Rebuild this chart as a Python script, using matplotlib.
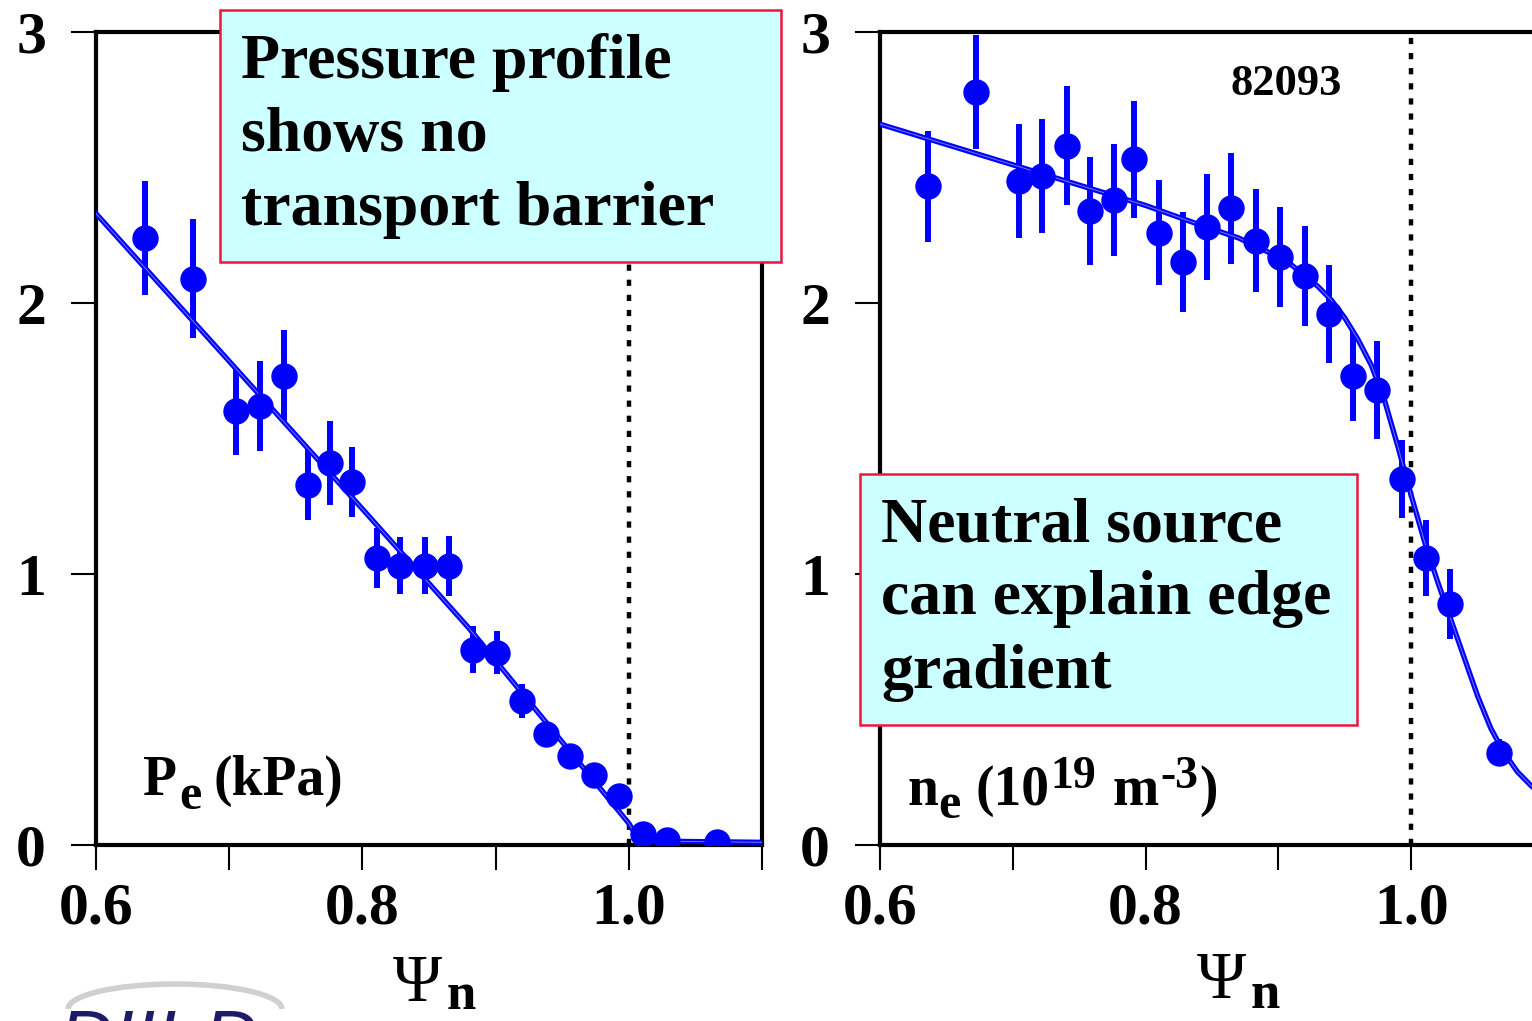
import matplotlib
matplotlib.use("Agg")
import matplotlib.pyplot as plt
from matplotlib.patches import Rectangle, Arc

plt.rcParams["font.family"] = ["Liberation Serif", "DejaVu Serif"]
plt.rcParams["font.weight"] = "bold"

BLUE = "#0000ff"
BOX_FILL = "#ccffff"
BOX_EDGE = "#f0143c"

# electron pressure (kPa) vs psi_n
pe_psi = [0.637, 0.673, 0.705, 0.723, 0.741, 0.759, 0.776, 0.792, 0.811, 0.828, 0.847,
          0.865, 0.883, 0.901, 0.920, 0.938, 0.956, 0.974, 0.993, 1.011, 1.029, 1.066]
pe_val = [2.24, 2.09, 1.60, 1.62, 1.73, 1.33, 1.41, 1.34, 1.06, 1.03, 1.03,
          1.03, 0.72, 0.71, 0.53, 0.41, 0.33, 0.26, 0.18, 0.04, 0.02, 0.01]
pe_err = [0.21, 0.22, 0.16, 0.165, 0.17, 0.13, 0.155, 0.13, 0.11, 0.105, 0.105,
          0.11, 0.087, 0.08, 0.063, 0.03, 0.02, 0.02, 0.02, 0.02, 0.02, 0.02]
pe_fit_psi = [0.60, 0.80, 0.88, 0.92, 1.00, 1.008, 1.10]
pe_fit_val = [2.33, 1.24, 0.80, 0.56, 0.08, 0.015, 0.01]

# electron density (1e19 m^-3) vs psi_n
ne_psi = [0.636, 0.672, 0.705, 0.722, 0.741, 0.758, 0.776, 0.791, 0.810, 0.828, 0.846,
          0.864, 0.883, 0.901, 0.920, 0.938, 0.956, 0.974, 0.993, 1.011, 1.029, 1.066]
ne_val = [2.43, 2.78, 2.45, 2.47, 2.58, 2.34, 2.38, 2.53, 2.26, 2.15, 2.28,
          2.35, 2.23, 2.17, 2.10, 1.96, 1.73, 1.68, 1.35, 1.06, 0.89, 0.34]
ne_err = [0.205, 0.21, 0.21, 0.21, 0.22, 0.20, 0.205, 0.215, 0.195, 0.185, 0.195,
          0.205, 0.19, 0.185, 0.185, 0.18, 0.165, 0.18, 0.145, 0.14, 0.13, 0.05]
ne_fit_psi = [0.60, 0.64, 0.68, 0.72, 0.76, 0.80, 0.84, 0.87, 0.90, 0.91, 0.92, 0.93,
              0.94, 0.95, 0.96, 0.97, 0.98, 0.99, 1.00, 1.01, 1.02, 1.03, 1.04,
              1.05, 1.06, 1.07, 1.08, 1.09, 1.10]
ne_fit_val = [2.66, 2.60, 2.54, 2.48, 2.42, 2.36, 2.29, 2.24, 2.17, 2.14, 2.10, 2.06,
              2.01, 1.945, 1.865, 1.77, 1.64, 1.47, 1.29, 1.12, 0.97, 0.83, 0.69,
              0.55, 0.43, 0.34, 0.27, 0.22, 0.18]

x_major = [0.6, 0.8, 1.0]
x_major_labels = ["0.6", "0.8", "1.0"]
x_minor = [0.7, 0.9, 1.1]
y_ticks = [0, 1, 2, 3]

W, H = 1532, 1021
fig = plt.figure(figsize=(W / 100, H / 100), dpi=100)
ax1 = fig.add_axes([96 / W, 176 / H, 666 / W, 813 / H])
ax2 = fig.add_axes([880 / W, 176 / H, 664 / W, 813 / H])


def px_text(x, y, s, size, **kw):
    # place text by its left edge and baseline, in picture pixels from top-left
    kw.setdefault("ha", "left")
    kw.setdefault("va", "baseline")
    return fig.text(x / W, 1 - y / H, s, fontsize=size, **kw)


def draw_panel(ax, psi, val, err, fit_psi, fit_val):
    ax.errorbar(psi, val, yerr=err, fmt="none", ecolor=BLUE, elinewidth=4.3,
                capsize=0, zorder=2)
    ax.plot(fit_psi, fit_val, color=BLUE, lw=3.8, zorder=3)
    ax.plot(fit_psi, fit_val, color="#7777ff", lw=0.7, zorder=3)
    ax.plot(psi, val, "o", ms=18, color=BLUE, zorder=4)
    ax.axvline(1.0, color="black", lw=3.2, linestyle=(0, (1.4, 2.0)), zorder=1)

    ax.set_xlim(0.6, 1.1)
    ax.set_ylim(0, 3)
    ax.set_xticks(x_major)
    ax.set_xticklabels(x_major_labels)
    ax.set_xticks(x_minor, minor=True)
    ax.set_yticks(y_ticks)
    ax.tick_params(axis="x", which="both", direction="out", length=18, width=1.5,
                   labelsize=43, pad=9)
    ax.tick_params(axis="y", direction="out", length=18, width=1.5, labelsize=43,
                   pad=18)
    for side in ["left", "right", "top", "bottom"]:
        ax.spines[side].set_linewidth(3.0)
        ax.spines[side].set_color("black")


draw_panel(ax1, pe_psi, pe_val, pe_err, pe_fit_psi, pe_fit_val)
draw_panel(ax2, ne_psi, ne_val, ne_err, ne_fit_psi, ne_fit_val)

# x axis labels: Psi_n
px_text(393, 1001, "\u03a8", 48, weight="normal")
px_text(447, 1009, "n", 38)
px_text(1197, 998, "\u03a8", 48, weight="normal")
px_text(1251, 1008, "n", 38)

# quantity labels inside the panels
px_text(143, 795, "P", 40)
px_text(179, 809, "e", 36)
px_text(214, 795, "(kPa)", 40)

px_text(907, 805, "n", 40)
px_text(938, 818, "e", 36)
px_text(975, 805, "(10", 40)
px_text(1050, 788, "19", 33)
px_text(1112, 805, "m", 40)
px_text(1160, 788, "-3", 33)
px_text(1199, 805, ")", 40)

px_text(1230, 95, "82093", 32)

# annotation boxes
fig.patches.append(Rectangle((220 / W, 1 - 262 / H), 561 / W, 252 / H,
                             transform=fig.transFigure, facecolor=BOX_FILL,
                             edgecolor=BOX_EDGE, lw=1.8, zorder=5))
fig.text(241 / W, 1 - 33 / H, "Pressure profile\nshows no\ntransport barrier",
         fontsize=46, ha="left", va="top", linespacing=1.35, zorder=6)

fig.patches.append(Rectangle((860 / W, 1 - 725 / H), 497 / W, 251 / H,
                             transform=fig.transFigure, facecolor=BOX_FILL,
                             edgecolor=BOX_EDGE, lw=1.8, zorder=5))
fig.text(881 / W, 1 - 497 / H, "Neutral source\ncan explain edge\ngradient",
         fontsize=46, ha="left", va="top", linespacing=1.35, zorder=6)

# partly visible logo at the bottom edge
fig.patches.append(Arc((175 / W, 12 / H), 214 / W, 50 / H, theta1=0, theta2=180,
                       transform=fig.transFigure, color="#d0d0d0", lw=4))
fig.text(58 / W, 1 - 1009 / H, "DIII-D", fontsize=52, style="italic",
         weight="normal", color="#1c1c6a", ha="left", va="top",
         family=["DejaVu Sans"])

fig.savefig("out.png", dpi=100)
